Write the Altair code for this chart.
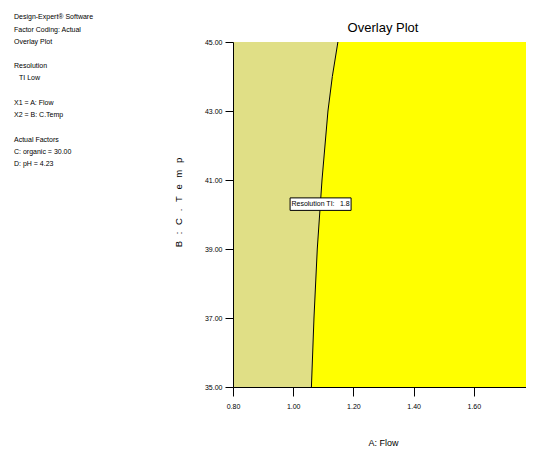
import altair as alt
import pandas as pd

# ---- data ----
temp = [35.0, 37.0, 39.0, 41.0, 43.0, 44.0, 45.0]
boundary_flow = [1.0605, 1.069, 1.080, 1.0957, 1.1155, 1.130, 1.1485]
flow_min, flow_max = 0.80, 1.80
temp_min, temp_max = 35.0, 45.0
x_ticks = [0.80, 1.00, 1.20, 1.40, 1.60, 1.80]
y_ticks = [35.0, 37.0, 39.0, 41.0, 43.0, 45.0]

label_text = ["Resolution TI:\u2002 1.8"]
label_flow = [1.091]
label_temp = [40.30]

chart_title = "Overlay Plot"
# two leading spaces mark an indented line; "" is an empty line
info_lines = [
    "Design-Expert\u00ae Software",
    "Factor Coding: Actual",
    "Overlay Plot",
    "",
    "Resolution",
    "  TI Low",
    "",
    "X1 = A: Flow",
    "X2 = B: C.Temp",
    "",
    "Actual Factors",
    "C: organic = 30.00",
    "D: pH = 4.23",
]

FONT = "Liberation Sans"
KHAKI = "#E0DF86"
YELLOW = "#FFFF00"

df = pd.DataFrame({
    "temp": temp,
    "flow": boundary_flow,
    "lo": [flow_min] * len(temp),
    "hi": [flow_max] * len(temp),
})
lab = pd.DataFrame({"t": label_text, "flow": label_flow, "temp": label_temp})

rows = [
    {"line": i, "t": s.strip(), "ind": s.startswith("  ")}
    for i, s in enumerate(info_lines) if s.strip()
]
info_df = pd.DataFrame(rows)
n_lines = len(info_lines)

xscale = alt.Scale(domain=[flow_min, flow_max], nice=False, zero=False)
yscale = alt.Scale(domain=[temp_min, temp_max], nice=False, zero=False)

xaxis = alt.Axis(
    values=x_ticks, format=".2f", title="A: Flow", grid=False,
    labelFontSize=7, labelFont=FONT, labelColor="black", labelFlush=False,
    tickSize=9, tickColor="black", domainColor="black", labelPadding=6,
    titleFont=FONT, titleFontSize=9, titleFontWeight="normal", titleColor="black",
    titleX=150, titleY=55, titleBaseline="middle", zindex=1,
)
yaxis = alt.Axis(
    values=y_ticks, format=".2f",
    title="B\u2002\u2009:\u2002\u2009C\u2002\u2009.\u2002\u2009T\u2002\u2009e\u2002\u2009m\u2002\u2009p",
    grid=False, labelFontSize=7, labelFont=FONT, labelColor="black",
    tickSize=8, tickColor="black", domainColor="black", labelPadding=3,
    titleFont=FONT, titleFontSize=9.5, titleFontWeight="normal", titleColor="black",
    titleX=-55, titleY=160, titleAngle=270, titleAlign="center", titleBaseline="middle",
    zindex=1,
)

base = alt.Chart(df)

left_area = base.mark_area(orient="horizontal", color=KHAKI, opacity=1).encode(
    y=alt.Y("temp:Q", scale=yscale, axis=yaxis),
    x=alt.X("lo:Q", scale=xscale, axis=xaxis),
    x2="flow:Q",
)
right_area = base.mark_area(orient="horizontal", color=YELLOW, opacity=1).encode(
    y="temp:Q",
    x="flow:Q",
    x2="hi:Q",
)
line = base.mark_line(color="black", strokeWidth=1).encode(
    y="temp:Q",
    x="flow:Q",
    order="temp:Q",
)

box = alt.Chart(lab).mark_point(
    shape="M-1,-0.205L1,-0.205L1,0.205L-1,0.205Z",
    size=61 * 61, filled=True, fill="white", stroke="black", strokeWidth=1, opacity=1,
).encode(x="flow:Q", y="temp:Q")
label = alt.Chart(lab).mark_text(
    font=FONT, fontSize=7, color="black", align="center", baseline="middle",
).encode(x="flow:Q", y="temp:Q", text="t:N")

# info block: its own line-number scale placed left of the plot
line_scale = alt.Scale(domain=[0, n_lines - 1], range=[-24.7, 122.0])
info_base = alt.Chart(info_df)
info_plain = info_base.transform_filter("!datum.ind").mark_text(
    font=FONT, fontSize=7, color="black", align="left", baseline="middle",
).encode(
    x=alt.value(-219),
    y=alt.Y("line:Q", scale=line_scale, axis=None),
    text="t:N",
)
info_indent = info_base.transform_filter("datum.ind").mark_text(
    font=FONT, fontSize=7, color="black", align="left", baseline="middle", dx=5,
).encode(
    x=alt.value(-219),
    y=alt.Y("line:Q", scale=line_scale, axis=None),
    text="t:N",
)
info = alt.layer(info_plain, info_indent)

one = alt.Data(values=[{"k": 0}])
title = alt.Chart(one).mark_text(
    font=FONT, fontSize=13, color="black", align="center", baseline="middle",
).encode(
    x=alt.value(150),
    y=alt.value(-14),
    text=alt.value(chart_title),
)

plot = alt.layer(left_area, right_area, line, box, label)

chart = alt.layer(plot, info, title).resolve_scale(y="independent").properties(
    width=301,
    height=345,
    autosize=alt.AutoSizeParams(type="none"),
    padding={"left": 225, "top": 34, "right": -8, "bottom": 60},
).configure_view(
    stroke="black", strokeWidth=1,
).configure(background="white")

chart.save("out.html", embed_options={"renderer": "svg", "actions": False})
